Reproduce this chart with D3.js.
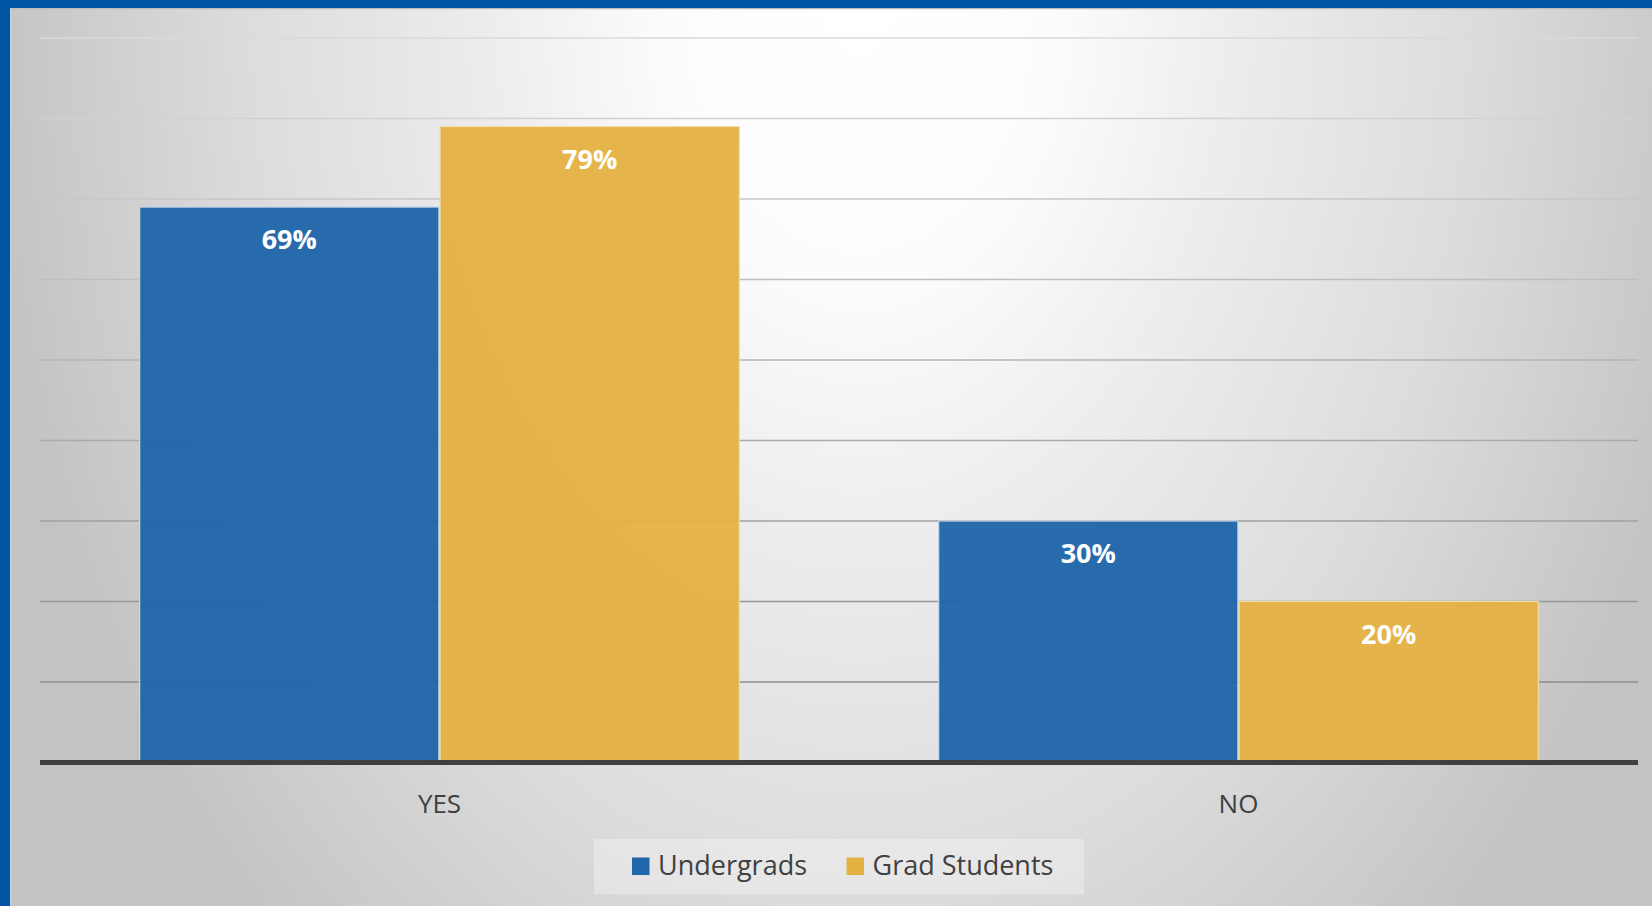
<!DOCTYPE html>
<html><head><meta charset="utf-8">
<script src="https://cdn.jsdelivr.net/npm/d3@7"></script>
<style>html,body{margin:0;padding:0;background:#fff;}svg{display:block;}</style>
</head><body>
<svg id="chart" width="1652" height="906"></svg>
<script>
const categories = ["YES", "NO"];
const seriesNames = ["Undergrads", "Grad Students"];
const undergrads = [0.69, 0.30];
const gradStudents = [0.79, 0.20];
const yTicks = [0, 0.1, 0.2, 0.3, 0.4, 0.5, 0.6, 0.7, 0.8, 0.9];
const colors = ["#2066aa", "#e4b143"];

const W = 1652, H = 906;
const svg = d3.select("#chart");
const defs = svg.append("defs");

// background radial gradient
const cx = 860;
const rg = defs.append("radialGradient").attr("id","bg")
  .attr("gradientUnits","userSpaceOnUse")
  .attr("cx",cx).attr("cy",0).attr("r",880)
  .attr("gradientTransform",`translate(${cx},0) scale(1,1.45) translate(${-cx},0)`);
[[0,"#ffffff"],[0.22,"#fcfcfc"],[0.42,"#ededed"],[0.7,"#dcdcdc"],[1,"#c3c3c3"]].forEach(s =>
  rg.append("stop").attr("offset", s[0]).attr("stop-color", s[1]));

svg.append("rect").attr("x",0).attr("y",0).attr("width",W).attr("height",H).attr("fill","url(#bg)");
// borders
svg.append("rect").attr("x",0).attr("y",0).attr("width",W).attr("height",8).attr("fill","#0054a4");
svg.append("rect").attr("x",0).attr("y",0).attr("width",10).attr("height",H).attr("fill","#0054a4");
svg.append("line").attr("x1",10).attr("x2",W).attr("y1",8.7).attr("y2",8.7).attr("stroke","#bcbcbc").attr("stroke-width",1.2);
svg.append("line").attr("x1",10.6).attr("x2",10.6).attr("y1",8).attr("y2",H).attr("stroke","#c9d3de").attr("stroke-width",1.2);

const plot = {left:40, right:1638, top:38, bottom:762.5};

const x0 = d3.scaleBand().domain(categories).range([plot.left, plot.right])
  .paddingInner(0.248).paddingOuter(0.124);
const x1 = d3.scaleBand().domain(seriesNames).range([0, x0.bandwidth()]).padding(0);
const y = d3.scaleLinear().domain([0, 0.9]).range([plot.bottom, plot.top]);

// gridlines
const gridColor = d3.scaleLinear().domain([0.9, 0.1]).range(["#dadada", "#8e8e8e"]);
svg.append("g").selectAll("line").data(yTicks.filter(d => d > 0)).join("line")
  .attr("x1", plot.left).attr("x2", plot.right)
  .attr("y1", d => y(d)).attr("y2", d => y(d))
  .attr("stroke", d => gridColor(d)).attr("stroke-width", 1.6);

const data = categories.map((c, i) => ({cat: c, vals: [undergrads[i], gradStudents[i]]}));

const groups = svg.append("g").selectAll("g").data(data).join("g")
  .attr("transform", d => `translate(${x0(d.cat)},0)`);

groups.selectAll("rect").data(d => d.vals.map((v, j) => ({name: seriesNames[j], v, j}))).join("rect")
  .attr("x", d => x1(d.name) + 0.6)
  .attr("width", x1.bandwidth() - 1.2)
  .attr("y", d => y(d.v))
  .attr("height", d => y(0) - y(d.v))
  .attr("fill", d => colors[d.j])
  .attr("fill-opacity", 0.96)
  .attr("stroke", d => d.j === 0 ? "#c8d8ea" : "#f2dca8")
  .attr("stroke-width", 1.2);

groups.selectAll("text").data(d => d.vals.map((v, j) => ({name: seriesNames[j], v, j}))).join("text")
  .attr("x", d => x1(d.name) + x1.bandwidth() / 2)
  .attr("y", d => y(d.v) + 42)
  .attr("text-anchor", "middle")
  .attr("font-family", "'Open Sans', sans-serif")
  .attr("font-weight", "bold")
  .attr("font-size", 27)
  .attr("fill", "#ffffff")
  .text(d => d3.format(".0%")(d.v));

// x axis baseline
svg.append("line").attr("x1", plot.left).attr("x2", plot.right)
  .attr("y1", y(0)).attr("y2", y(0)).attr("stroke", "#404040").attr("stroke-width", 5);

// category labels via axis
const xAxis = svg.append("g").attr("transform", `translate(0,${y(0)})`)
  .call(d3.axisBottom(x0).tickSize(0).tickPadding(0));
xAxis.select(".domain").remove();
xAxis.selectAll("text")
  .attr("y", 50).attr("dy", 0)
  .attr("font-family", "'Open Sans', sans-serif")
  .attr("font-size", 26)
  .attr("fill", "#404040");

// legend
const lg = svg.append("g");
lg.append("rect").attr("x", 594).attr("y", 839).attr("width", 490).attr("height", 55)
  .attr("fill", "#ffffff").attr("fill-opacity", 0.3);
const legendX = [632, 846.5];
const items = lg.selectAll("g.item").data(seriesNames).join("g").attr("class","item")
  .attr("transform", (d, i) => `translate(${legendX[i]},0)`);
items.append("rect").attr("x", 0).attr("y", 857.5).attr("width", 17.5).attr("height", 17.5)
  .attr("fill", (d, i) => colors[i]);
items.append("text").attr("x", 26).attr("y", 875)
  .attr("font-family", "'Open Sans', sans-serif").attr("font-size", 27)
  .attr("fill", "#404040").text(d => d);
</script>
</body></html>
